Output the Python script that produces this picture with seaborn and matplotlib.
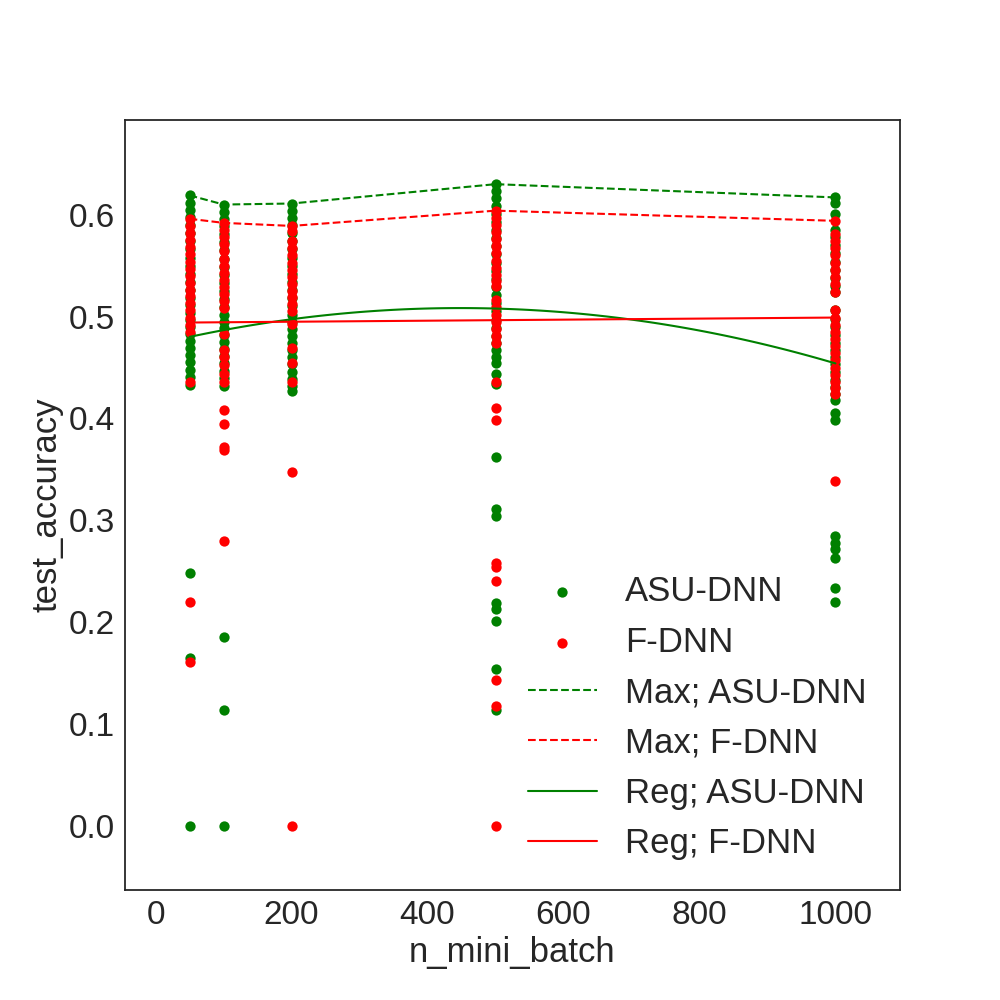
import numpy as np
import pandas as pd
import matplotlib
matplotlib.use("Agg")
import matplotlib.pyplot as plt
import seaborn as sns

batch_sizes = [50, 100, 200, 500, 1000]

# ASU-DNN test accuracies per n_mini_batch
asu_50 = [0.619, 0.612, 0.605, 0.598, 0.590, 0.582, 0.574, 0.566, 0.558, 0.550, 0.542,
          0.534, 0.526, 0.518, 0.511, 0.504, 0.497, 0.490, 0.483, 0.476, 0.469, 0.462,
          0.455, 0.448, 0.441, 0.433, 0.248, 0.165, 0.0]
asu_100 = [0.610, 0.603, 0.596, 0.589, 0.581, 0.573, 0.565, 0.557, 0.549, 0.541, 0.533,
           0.525, 0.517, 0.509, 0.502, 0.495, 0.489, 0.482, 0.475, 0.468, 0.461, 0.454,
           0.447, 0.440, 0.432, 0.185, 0.114, 0.0]
asu_200 = [0.611, 0.604, 0.597, 0.590, 0.582, 0.574, 0.566, 0.558, 0.550, 0.542, 0.534,
           0.526, 0.518, 0.510, 0.502, 0.495, 0.488, 0.481, 0.474, 0.467, 0.460, 0.453,
           0.446, 0.439, 0.432, 0.427]
asu_500 = [0.630, 0.623, 0.616, 0.609, 0.601, 0.593, 0.585, 0.577, 0.569, 0.561, 0.553,
           0.545, 0.537, 0.529, 0.521, 0.513, 0.505, 0.497, 0.489, 0.481, 0.474, 0.467,
           0.460, 0.454, 0.444, 0.434, 0.362, 0.311, 0.304, 0.219, 0.213, 0.201, 0.154,
           0.114]
asu_1000 = [0.617, 0.612, 0.601, 0.585, 0.578, 0.570, 0.562, 0.554, 0.546, 0.538, 0.530,
            0.524, 0.506, 0.498, 0.490, 0.482, 0.474, 0.467, 0.460, 0.453, 0.446, 0.438,
            0.431, 0.424, 0.418, 0.405, 0.398, 0.285, 0.278, 0.272, 0.263, 0.234, 0.220]

# F-DNN test accuracies per n_mini_batch
fdnn_50 = [0.596, 0.589, 0.582, 0.575, 0.568, 0.561, 0.554, 0.547, 0.540, 0.533, 0.526,
           0.520, 0.513, 0.506, 0.499, 0.492, 0.485, 0.436, 0.220, 0.161]
fdnn_100 = [0.592, 0.585, 0.578, 0.571, 0.564, 0.557, 0.550, 0.543, 0.536, 0.529, 0.522,
            0.515, 0.508, 0.483, 0.467, 0.460, 0.452, 0.444, 0.436, 0.408, 0.395, 0.372,
            0.369, 0.280]
fdnn_200 = [0.589, 0.584, 0.574, 0.567, 0.560, 0.553, 0.546, 0.539, 0.532, 0.525, 0.519,
            0.512, 0.505, 0.493, 0.469, 0.454, 0.436, 0.347, 0.0]
fdnn_500 = [0.604, 0.597, 0.590, 0.583, 0.576, 0.569, 0.562, 0.555, 0.548, 0.541, 0.535,
            0.530, 0.516, 0.509, 0.502, 0.495, 0.488, 0.481, 0.474, 0.436, 0.410, 0.398,
            0.258, 0.254, 0.240, 0.143, 0.118, 0.0]
fdnn_1000 = [0.594, 0.581, 0.574, 0.567, 0.560, 0.553, 0.546, 0.539, 0.532, 0.524, 0.506,
             0.499, 0.492, 0.485, 0.478, 0.471, 0.464, 0.457, 0.450, 0.443, 0.436, 0.430,
             0.424, 0.339]

# fitted regression curves read at each n_mini_batch
reg_asu = [0.480, 0.487, 0.497, 0.508, 0.454]
reg_fdnn = [0.494, 0.4945, 0.495, 0.4965, 0.499]

models = ["ASU-DNN", "F-DNN"]
colors = {"ASU-DNN": "green", "F-DNN": "red"}

rows = []
for model, groups in (("ASU-DNN", [asu_50, asu_100, asu_200, asu_500, asu_1000]),
                      ("F-DNN", [fdnn_50, fdnn_100, fdnn_200, fdnn_500, fdnn_1000])):
    for b, vals in zip(batch_sizes, groups):
        for v in vals:
            rows.append({"model": model, "n_mini_batch": b, "test_accuracy": v})
df = pd.DataFrame(rows)

sns.set_style("white")
plt.rcParams["font.family"] = ["Liberation Sans", "DejaVu Sans"]

fig, ax = plt.subplots(figsize=(10, 10), dpi=100)

for m in models:
    d = df[df.model == m]
    ax.scatter(d["n_mini_batch"], d["test_accuracy"], color=colors[m], s=55,
               linewidths=0, label=m, zorder=2)

for m in models:
    d = df[df.model == m]
    sns.lineplot(data=d, x="n_mini_batch", y="test_accuracy", estimator="max",
                 errorbar=None, color=colors[m], linestyle="--", lw=1.5,
                 label=f"Max; {m}", ax=ax, zorder=3)

sns.regplot(x=np.array(batch_sizes), y=np.array(reg_asu), order=2, scatter=False,
            ci=None, color="green", line_kws={"lw": 1.5, "zorder": 3},
            label="Reg; ASU-DNN", ax=ax)
sns.regplot(x=np.array(batch_sizes), y=np.array(reg_fdnn), order=1, scatter=False,
            ci=None, color="red", line_kws={"lw": 1.5, "zorder": 3},
            label="Reg; F-DNN", ax=ax)

ax.margins(x=0.1, y=0.1)
ax.set_xlabel("n_mini_batch", fontsize=25)
ax.set_ylabel("test_accuracy", fontsize=25)
ax.tick_params(labelsize=24)
for s in ax.spines.values():
    s.set_color(".15")
    s.set_linewidth(1.3)

ax.legend(loc="lower right", frameon=False, fontsize=25, bbox_to_anchor=(0.997, -0.002))

fig.savefig("out.png", dpi=100)
